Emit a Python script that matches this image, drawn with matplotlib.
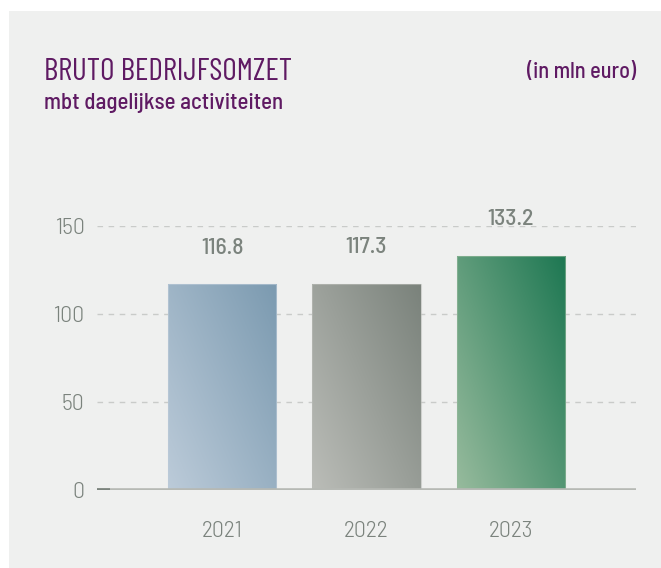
import matplotlib
matplotlib.use("Agg")
import matplotlib.pyplot as plt
import numpy as np
from matplotlib.colors import to_rgb
from matplotlib.patches import Rectangle

years = ["2021", "2022", "2023"]
values = [116.8, 117.3, 133.2]
value_labels = ["116.8", "117.3", "133.2"]
yticks = [0, 50, 100, 150]
title = "BRUTO BEDRIJFSOMZET"
subtitle = "mbt dagelijkse activiteiten"
unit = "(in mln euro)"

light_cols = ["#bccbd9", "#bbbdb8", "#97bb9d"]
dark_cols = ["#7b9ab0", "#7a827b", "#1d7752"]

FONT = ["Barlow Semi Condensed", "DejaVu Sans"]
TITLE_FONT = ["Barlow Condensed", "Barlow Semi Condensed", "DejaVu Sans"]
plt.rcParams['font.family'] = FONT

BG = "#eff0ef"
PURPLE = "#5f1a63"
GRAYTXT = "#7b837d"

W, H = 661, 568
fig = plt.figure(figsize=(W / 100, H / 100), dpi=100)
fig.patch.set_facecolor("white")
fig.add_artist(Rectangle((9 / W, 0), 1, (H - 11) / H, transform=fig.transFigure,
                         facecolor=BG, edgecolor="none", zorder=-10))

# axes: x pixels 97..636, y pixels 490 (0) .. 226 (150)
x0, x1 = 97, 636
yb, yt = 490, 226
ax = fig.add_axes([x0 / W, (H - yb) / H, (x1 - x0) / W, (yb - yt) / H])
ax.set_facecolor("none")
for s in ax.spines.values():
    s.set_visible(False)
ax.set_xlim(-0.87, 2.87)
ax.set_ylim(0, 150)

for yv in yticks[1:]:
    ax.axhline(yv, color="#c9cbc9", lw=1.0, ls=(0, (4, 4)), zorder=0)

xs = np.arange(len(years))
bw = 0.75
bars = ax.bar(xs, values, width=bw, color="none", edgecolor="none", zorder=2)
for i, b in enumerate(bars):
    c0 = np.array(to_rgb(light_cols[i]))
    c1 = np.array(to_rgb(dark_cols[i]))
    n = 200
    u = np.linspace(0, 1, n)[None, :]
    v = np.linspace(0, 1, n)[:, None]
    t = (u * 0.55 + v * 0.45)
    img = c0[None, None, :] * (1 - t[..., None]) + c1[None, None, :] * t[..., None]
    bx = b.get_x()
    im = ax.imshow(img, extent=[bx, bx + b.get_width(), 0, b.get_height()],
                   origin="lower", aspect="auto", zorder=2, interpolation="bilinear")
    im.set_clip_path(b)
    ax.add_patch(Rectangle((bx, 0), b.get_width(), b.get_height(), facecolor="none",
                           edgecolor=light_cols[i], lw=0.8, alpha=0.6, zorder=3))
    ax.annotate(value_labels[i], (xs[i], values[i]), xytext=(0, 26), textcoords="offset points",
                ha="center", va="center", fontsize=17, color=GRAYTXT, fontweight=500,
                zorder=4)

ax.set_xlim(-0.87, 2.87)
ax.set_ylim(0, 150)

# baseline
ax.axhline(0, color="#b6b9b4", lw=2.6, zorder=3, solid_capstyle="butt")
ax.plot([-0.87, -0.78], [0, 0], color="#7b837d", lw=2.6, zorder=4, solid_capstyle="butt")

ax.set_yticks(yticks)
ax.set_yticklabels([str(v) for v in yticks], fontweight=300)
ax.set_xticks(xs)
ax.set_xticklabels(years, fontweight=300)
ax.tick_params(axis="both", length=0, labelsize=17, labelcolor=GRAYTXT)
ax.tick_params(axis="y", pad=9)
ax.tick_params(axis="x", pad=22)

fig.text(44 / W, 1 - 72 / H, title, fontsize=22.5, color=PURPLE, ha="left", va="center",
         fontweight=400, family=TITLE_FONT)
fig.text(44 / W, 1 - 103 / H, subtitle, fontsize=16.5, color=PURPLE, ha="left", va="center", fontweight=500)
fig.text(636 / W, 1 - 72 / H, unit, fontsize=16, color=PURPLE, ha="right", va="center", fontweight=500)

fig.savefig("out.png", dpi=100, facecolor="white")
